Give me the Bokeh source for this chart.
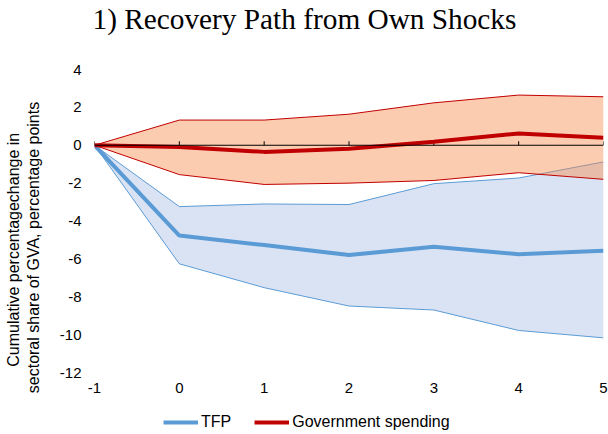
import math
from bokeh.plotting import figure
from bokeh.layouts import column, row
from bokeh.models import (Range1d, FixedTicker, Legend, LegendItem, Span, Label,
                          PrintfTickFormatter)
from bokeh.embed import file_html
from bokeh.resources import INLINE

# ---- data ----
periods = [-1, 0, 1, 2, 3, 4, 5]
tfp = [0, -4.77, -5.27, -5.80, -5.36, -5.75, -5.57]
tfp_upper = [0, -3.24, -3.10, -3.13, -2.03, -1.73, -0.88]
tfp_lower = [0, -6.26, -7.52, -8.49, -8.70, -9.78, -10.17]
gov = [0, -0.09, -0.35, -0.18, 0.18, 0.62, 0.39]
gov_upper = [0, 1.33, 1.33, 1.64, 2.24, 2.65, 2.56]
gov_lower = [0, -1.55, -2.07, -2.00, -1.86, -1.45, -1.80]
y_ticks = [-12, -10, -8, -6, -4, -2, 0, 2, 4]
title_text = "1) Recovery Path from Own Shocks"
ylabel_lines = ["Cumulative  percentagechange in",
                "sectoral share of GVA, percentage points"]
legend_labels = ["TFP", "Government spending"]

# ---- layout constants (pixels) ----
W = 608
H_TITLE, H_MAIN, H_LEG = 42, 358, 34
W_YLAB = 45
W_MAIN = W - W_YLAB
LEFT, RIGHT, TOP, BOTTOM = 49, 5, 27, 28
XMIN, XMAX, YMIN, YMAX = -1, 5, -12, 4
fh = H_MAIN - TOP - BOTTOM

TICK_PX = 4
BLUE = "#5B9BD5"
BLUE_FILL = "#DAE3F3"
RED = "#C00000"
RED_FILL = (248, 136, 71)
FONT = "Liberation Sans"


def strip(width, height):
    f = figure(width=width, height=height, output_backend="svg", toolbar_location=None,
               x_range=Range1d(0, width), y_range=Range1d(0, height),
               x_axis_location=None, y_axis_location=None,
               min_border=0, frame_align=False)
    f.outline_line_color = None
    f.xgrid.grid_line_color = None
    f.ygrid.grid_line_color = None
    return f


# ---- title strip ----
t = strip(W, H_TITLE)
t.add_layout(Label(x=92, y=H_TITLE - 18, text=title_text, text_align="left",
                   text_baseline="middle", text_font="Liberation Serif",
                   text_font_size="29.3px", text_color="black"))

# ---- y-label strip ----
yl = strip(W_YLAB, H_MAIN)
for xpos, line in zip([13, 33], ylabel_lines):
    yl.add_layout(Label(x=xpos, y=H_MAIN - (246 - H_TITLE) - 1, text=line,
                        angle=math.pi / 2,
                        text_align="center", text_baseline="middle",
                        text_font=FONT, text_font_size="16px", text_color="black"))

# ---- main chart ----
p = figure(width=W_MAIN, height=H_MAIN, output_backend="svg", toolbar_location=None,
           x_range=Range1d(XMIN, XMAX), y_range=Range1d(YMIN, YMAX),
           min_border_left=LEFT, min_border_right=RIGHT,
           min_border_top=TOP, min_border_bottom=BOTTOM, frame_align=False)
p.outline_line_color = None
p.xgrid.grid_line_color = None
p.ygrid.grid_line_color = None

# bands
p.varea(x=periods, y1=tfp_lower, y2=tfp_upper, fill_color=BLUE_FILL)
p.line(periods, tfp_upper, line_color=BLUE, line_width=1)
p.line(periods, tfp_lower, line_color=BLUE, line_width=1)
p.varea(x=periods, y1=gov_lower, y2=gov_upper, fill_color=RED_FILL, fill_alpha=0.43)
p.line(periods, gov_upper, line_color=RED, line_width=1)
p.line(periods, gov_lower, line_color=RED, line_width=1)

# zero line with upward ticks
p.add_layout(Span(location=0, dimension="width", line_color="black", line_width=1))
tick_h = TICK_PX / fh * (YMAX - YMIN)
p.segment(x0=periods, y0=[0] * len(periods), x1=periods,
          y1=[tick_h] * len(periods), line_color="black", line_width=1)

p.line(periods, tfp, line_color=BLUE, line_width=4)
p.line(periods, gov, line_color=RED, line_width=4)

# axes
p.yaxis.ticker = FixedTicker(ticks=y_ticks)
p.yaxis.formatter = PrintfTickFormatter(format="%d")
p.yaxis.axis_line_color = None
p.yaxis.major_tick_out = 0
p.yaxis.major_tick_in = 0
p.yaxis.minor_tick_line_color = None
p.yaxis.major_label_text_font = FONT
p.yaxis.major_label_text_font_size = "15px"
p.yaxis.major_label_text_color = "black"
p.yaxis.major_label_standoff = 13

p.xaxis.ticker = FixedTicker(ticks=periods)
p.xaxis.formatter = PrintfTickFormatter(format="%d")
p.xaxis.axis_line_color = None
p.xaxis.major_tick_out = 0
p.xaxis.major_tick_in = 0
p.xaxis.minor_tick_line_color = None
p.xaxis.major_label_text_font = FONT
p.xaxis.major_label_text_font_size = "15px"
p.xaxis.major_label_text_color = "black"
p.xaxis.major_label_standoff = 10

# ---- legend strip ----
q = figure(width=W, height=H_LEG, output_backend="svg", toolbar_location=None,
           x_range=Range1d(100, 101), y_range=Range1d(100, 101),
           x_axis_location=None, y_axis_location=None,
           min_border=0, frame_align=False)
q.outline_line_color = None
q.xgrid.grid_line_color = None
q.ygrid.grid_line_color = None
lt = q.line(periods, tfp, line_color=BLUE, line_width=4)
lg = q.line(periods, gov, line_color=RED, line_width=4)
legend = Legend(items=[LegendItem(label=legend_labels[0], renderers=[lt]),
                       LegendItem(label=legend_labels[1], renderers=[lg])],
                orientation="horizontal", location=(163, 3),
                border_line_color=None, background_fill_alpha=0,
                padding=0, margin=0, spacing=23,
                glyph_width=35, glyph_height=16, label_standoff=3,
                label_text_font=FONT, label_text_font_size="16px",
                label_text_color="black")
q.add_layout(legend, "center")

layout = column(t, row(yl, p, spacing=0), q, spacing=0)
open("out.html", "w").write(file_html(layout, INLINE))
